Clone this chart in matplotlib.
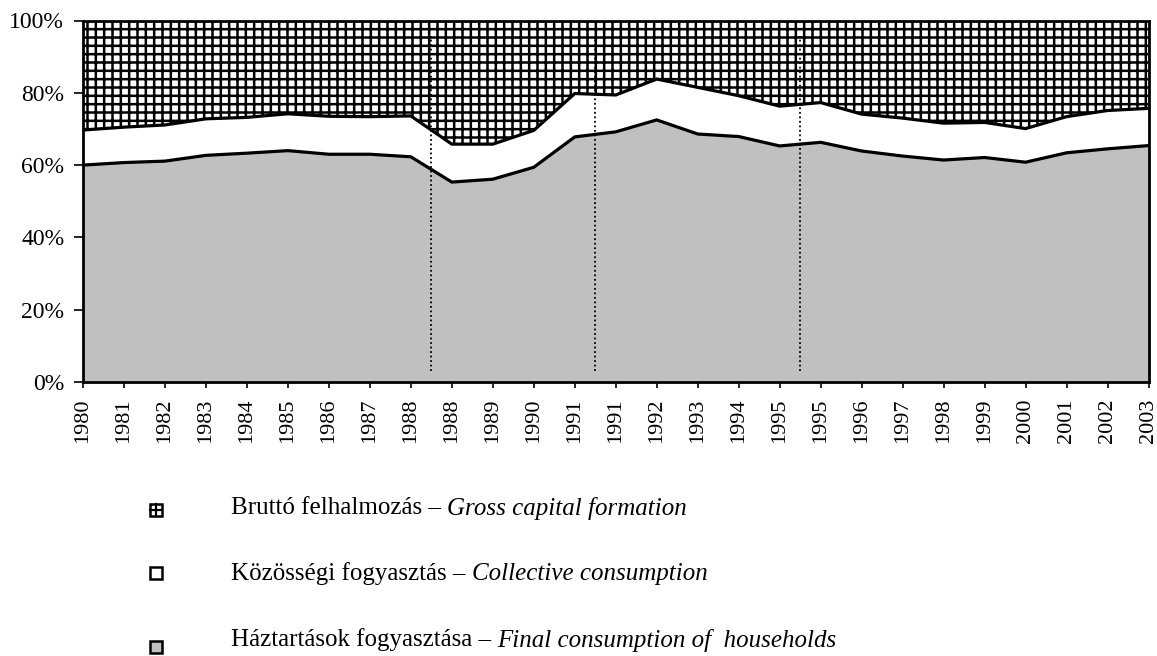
import matplotlib
matplotlib.use('Agg')
import matplotlib.pyplot as plt
from matplotlib.patches import Rectangle
from matplotlib.lines import Line2D

years = ['1980', '1981', '1982', '1983', '1984', '1985', '1986', '1987', '1988',
         '1988', '1989', '1990', '1991', '1991', '1992', '1993', '1994', '1995',
         '1995', '1996', '1997', '1998', '1999', '2000', '2001', '2002', '2003']
households = [60.0, 60.7, 61.1, 62.7, 63.3, 64.0, 63.0, 63.0, 62.3, 55.3, 56.1, 59.4,
              67.8, 69.2, 72.5, 68.6, 67.9, 65.3, 66.3, 63.9, 62.5, 61.4, 62.1, 60.8,
              63.4, 64.5, 65.4]
collective = [9.7, 9.8, 10.0, 10.1, 9.9, 10.2, 10.5, 10.4, 11.3, 10.5, 9.7, 10.2,
              12.0, 10.2, 11.3, 12.9, 11.3, 11.0, 11.0, 10.2, 10.5, 10.2, 9.7, 9.3,
              10.0, 10.6, 10.3]
gross = [30.3, 29.5, 28.9, 27.2, 26.8, 25.8, 26.5, 26.6, 26.4, 34.2, 34.2, 30.4,
         20.2, 20.6, 16.2, 18.5, 20.8, 23.7, 22.7, 25.9, 27.0, 28.4, 28.2, 29.9,
         26.6, 24.9, 24.3]
breaks = [8.5, 12.5, 17.5]
yticks = [0, 20, 40, 60, 80, 100]
legend_hu = ['Bruttó felhalmozás – ', 'Közösségi fogyasztás – ', 'Háztartások fogyasztása – ']
legend_en = ['Gross capital formation', 'Collective consumption', 'Final consumption of  households']

plt.rcParams['font.family'] = ['Liberation Serif', 'DejaVu Serif']
plt.rcParams['hatch.linewidth'] = 1.8

W, H = 1157, 656
fig = plt.figure(figsize=(W / 100, H / 100), dpi=100)
ax = fig.add_axes([83 / W, 1 - 382 / H, (1148.5 - 83) / W, (382 - 20.5) / H])

x = list(range(len(years)))
polys = ax.stackplot(x, households, collective, gross,
                     colors=['#C0C0C0', 'white', 'white'], linewidth=0)
polys[2].set_hatch('++')
polys[2].set_edgecolor('black')
polys[2].set_linewidth(0)

lower = households
upper = [h + c for h, c in zip(households, collective)]
ax.plot(x, lower, color='black', lw=2.3, solid_joinstyle='miter')
ax.plot(x, upper, color='black', lw=2.3, solid_joinstyle='miter')

for b in breaks:
    ax.plot([b, b], [3, 95.7], color='black', lw=1.3, ls=(0, (1, 1.5)))

ax.set_xlim(0, len(years) - 1)
ax.set_ylim(0, 100)
ax.set_yticks(yticks)
ax.set_yticklabels([f'{v}%' for v in yticks], fontsize=17)
ax.set_xticks(x)
ax.set_xticklabels(years, rotation=90, fontsize=16)
ax.tick_params(axis='both', direction='out', width=1.2, color='black')
ax.tick_params(axis='x', length=4.5, pad=7.5)
ax.tick_params(axis='y', length=6.5, pad=7)
for s in ax.spines.values():
    s.set_linewidth(2)
    s.set_color('black')

# legend
rows_y = [508, 574, 640]
marker_y = [510, 573, 647]
sq = 12
for i, (hu, en) in enumerate(zip(legend_hu, legend_en)):
    cx, cy = 155.5, marker_y[i]
    face = ['white', 'white', '#C0C0C0'][i]
    r = Rectangle(((cx - sq / 2) / W, 1 - (cy + sq / 2) / H), sq / W, sq / H,
                  transform=fig.transFigure, facecolor=face, edgecolor='black', lw=1.8)
    fig.patches.append(r)
    if i == 0:
        fig.lines.append(Line2D([cx / W, cx / W], [1 - (cy - sq / 2) / H, 1 - (cy + sq / 2) / H],
                                transform=fig.transFigure, color='black', lw=1.6))
        fig.lines.append(Line2D([(cx - sq / 2) / W, (cx + sq / 2) / W], [1 - cy / H, 1 - cy / H],
                                transform=fig.transFigure, color='black', lw=1.6))
    t = fig.text(231 / W, 1 - rows_y[i] / H, hu, fontsize=18, va='center', ha='left')
    fig.canvas.draw()
    bb = t.get_window_extent()
    fig.text(bb.x1 / W, 1 - rows_y[i] / H, en, fontsize=18, va='center', ha='left', style='italic')

fig.savefig('out.png', dpi=100)
